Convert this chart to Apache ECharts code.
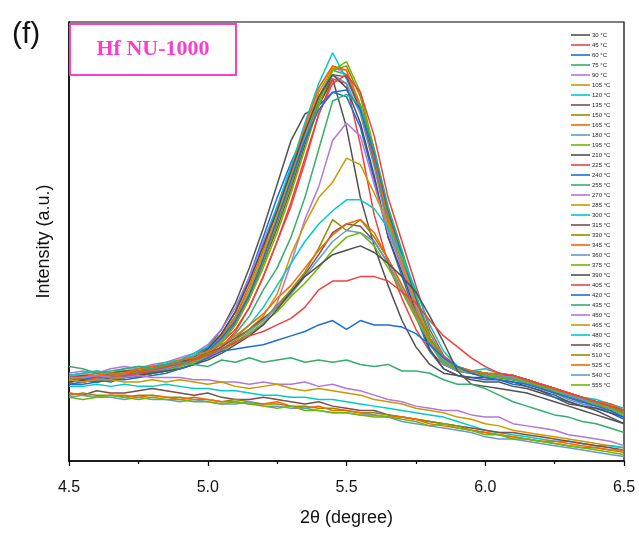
<!DOCTYPE html>
<html><head><meta charset="utf-8">
<script src="https://cdn.jsdelivr.net/npm/echarts@6/dist/echarts.min.js"></script>
<style>html,body{margin:0;padding:0;background:#fff}#c{width:639px;height:540px}</style>
</head><body><div id="c"></div>
<script>
const xs = [4.50,4.55,4.60,4.65,4.70,4.75,4.80,4.85,4.90,4.95,5.00,5.05,5.10,5.15,5.20,5.25,5.30,5.35,5.40,5.45,5.50,5.55,5.60,5.65,5.70,5.75,5.80,5.85,5.90,5.95,6.00,6.05,6.10,6.15,6.20,6.25,6.30,6.35,6.40,6.45,6.50];
const xTicks = [4.5, 5.0, 5.5, 6.0, 6.5];
const temps = ["30 °C","45 °C","60 °C","75 °C","90 °C","105 °C","120 °C","135 °C","150 °C","165 °C","180 °C","195 °C","210 °C","225 °C","240 °C","255 °C","270 °C","285 °C","300 °C","315 °C","330 °C","345 °C","360 °C","375 °C","390 °C","405 °C","420 °C","435 °C","450 °C","465 °C","480 °C","495 °C","510 °C","525 °C","540 °C","555 °C"];
const palette = ["#515151","#F14040","#1A6FDF","#37AD6B","#B177DE","#CC9900","#00CBCC","#7D4E4E","#8E8E00","#FB6501","#6699CC","#6FB802"];

const s30  = [18,18.5,18,19,19.5,19,20.5,21,22.5,24,26,30,36,44,53,63,73,79,81,87,76,60,49,40,32,26,22,20,19.5,18.5,18,18,17,16.5,15.5,14.5,13,12.5,11.5,10,8.5];
const s45  = [18.5,19,19.5,18.5,19,20,20.5,21.5,22,23,24.5,27,30,35,42,50,58,68,79,87,86,72,56,45,37,30,25,22,21,20.5,20,19,19.5,18,17,16,15,14,13.5,12,11];
const s60  = [17.5,18,18.5,18,19,19.5,20,21,22,23.5,26,29,34,42,51,60,68,75,81,84,83,76,64,51,42,33,25,21,19.5,19,18.5,18.5,17.5,17,16,14.5,13.5,12.5,12,11,9.5];
const s75  = [19.5,19,19.5,20,19.5,20.5,21,22,22.5,24,25.5,28.5,33,39,47,55,64,74,83,89,88,81,69,55,46,36,27,22.5,21,20,19.5,19.5,18.5,18,17,15.5,14.5,13.5,12.5,12,11];
const s90  = [20,20.5,20,21,21.5,21,22,22.5,23.5,24.5,26.5,30,35,42,50,58,67,76,85,90,88,80,68,54,45,35,27,22,20.5,20,19.5,19,18.5,18,16.5,15.5,14.5,13,12.5,12,11];
const s105 = [19,18.5,19,19.5,20,20.5,21,21.5,22.5,23.5,25,28,32.5,39,47,56,65,75,84,89.5,89,81,69,55,46,36,27.5,22.5,21,20.5,20,19.5,19,18,17,16,14.5,13.5,13,12,11];
const s120 = [19.5,20,19.5,20,20.5,21,21.5,22,23,24.5,26,29,34,41,49,58,67,77,86,93,87,80,68,54,45,36,27,22,21,20.5,20,19.5,19.5,18.5,17.5,16,15,14,13,12.5,11.5];
const s135 = [18.5,19,19,19.5,20,20,21,21.5,22,23,24.5,27.5,31.5,37.5,45,53,62,72,81,88,87.5,80,68,53,45,36,27,22,20.5,20,19.5,19,19,18,17,15.5,14.5,13.5,13,12,10.5];
const s150 = [18,18.5,18,18.5,19,19.5,20,20.5,21.5,22.5,24,27,31,37,45,54,63,73,82,89,90,83,70,56,47,37,28,23,21,20.5,20,19.5,19,18,17,16,15,14,13,12,11];
const s165 = [19,19.5,20,19.5,20,20.5,21.5,22,22.5,24,25.5,28.5,33,40,48,57,66,76,85,90,89,81,69,55,46,36,27,22.5,21,20,20,19.5,19,18,17,16,15,14,13,12.5,11.5];
const s180 = [18.5,18,18.5,19,19.5,19.5,20,21,21.5,23,24.5,27.5,32,38,46,55,64,74,83,88,86,79,67,53,44,35,26.5,22,20.5,20,19.5,19,18.5,17.5,16.5,15.5,14,13,12,11.5,10];
const s195 = [18,18.5,19,18.5,19,19.5,20,21,22,23,24.5,27,31,37,44,52,61,71,81,89,91,84,71,57,47,37,28,23,21,20.5,20,19.5,19,18.5,17,16,15,14,13,12,11];
const s210 = [18.5,18,18.5,19,19,19.5,20.5,21,22,23.5,25.5,29,34,41,49,57,66,75,83,88,85,77,65,51,43,34,25.5,21,19.5,19,19,18.5,18,17,16,15,13.5,12.5,12,11,10];
const s225 = [18,18.5,18,18.5,19,19.5,20,20.5,21,22,23.5,26,29.5,35,42,50,59,69,79,86,88,84,74,60,50,40,30,24,21.5,20.5,20,19.5,19,18.5,17.5,16.5,15.5,14.5,13.5,12.5,11];
const s240 = [18.5,19,18.5,19,19.5,20,20,21,22,23,25,28,32,38,46,55,64,73,80,84,84.5,80,70,57,47,37,28,23,21,20.5,19.5,19,18.5,18,17,16,14.5,13.5,13,12,10.5];
const s255 = [19,19.5,19,19.5,20,20.5,21,21.5,22,23,24,26,29,33,39,44,51,60,71,82,83.5,81,71,58,48,38,29,23.5,21.5,20.5,20,19.5,19,18.5,17.5,16.5,15,14,13,12.5,11];
const s270 = [19.5,20,20.5,20,20.5,21,21.5,22,22.5,23.5,24,25.5,27,29,31,36,45,55,62.5,73,77,74,63,52,44,35.5,27.5,23,21,20.5,20,19.5,19,18.5,17.5,16.5,15,14,13.5,12.5,11];
const s285 = [19,19.5,19,19.5,20,20.5,21,21.5,22,23,24,25.5,27.5,30,33,38,47,54,60,63.5,69,67.5,61,54,45,36,28,23,21,20.5,20,19.5,19,18.5,17.5,16.5,15.5,14.5,13.5,12.5,11.5];
const s300 = [19.5,20,20.5,20,21,21.5,21.5,22.5,23,24,25,26.5,28,31,35,40,45,50,54,57,59.5,59.5,57.5,53,46.5,39,31,25,21.5,20.5,21,20,19.5,18.5,17.5,16.5,15.5,14.5,14,13,12];
const s315 = [19,19.5,19,20,20.5,20.5,21,22,22.5,23.5,24.5,26,28,30,32.5,35,38.5,42.5,47,52,54,53.5,50,45,39,33,27,23,21,20.5,20,19.5,19.5,18.5,17.5,16.5,15.5,14.5,13.5,13,11.5];
const s330 = [18.5,19,19.5,19.5,20,20.5,21,21.5,22,23,24.5,25.5,27.5,30,32,35.5,39,43,48.5,55,52.5,55,51,46,40,34,28,23.5,21.5,20.5,20,19.5,19,18.5,17.5,16.5,15,14,13.5,12.5,11];
const s345 = [19,19,19.5,20,20,21,21.5,22,23,23.5,25,26.5,28.5,31,33.5,37,40,44,48,51.5,54,55,52,46,40,33.5,27.5,23,21.5,20.5,20,20,19.5,18.5,17.5,16.5,15.5,14.5,13.5,13,11.5];
const s360 = [18,18.5,18.5,19,19.5,20,20.5,21,22,22.5,24,25.5,27,29.5,32,35,38,42,46,50,52.5,52,50,45,39,33,27,23,21,20,19.5,19.5,19,18,17,16,15,14,13,12,10.5];
const s375 = [18,18.5,18,18.5,19,19.5,20,20.5,21.5,22.5,23.5,25,27,29,31.5,34,37.5,40.5,44,48,51,52,49,44,38.5,32.5,27,22.5,21,20,19.5,19,18.5,18,17,16,14.5,13.5,13,12,10.5];
const s390 = [18,18.5,18,19,19,19.5,20,20.5,21,22,23,24.5,26.5,28.5,31,34.5,38.5,42,44.5,47,48,49,47.5,45,42,38.5,33,27,20.5,17.5,17,16.5,16,15.5,14.5,13.5,12.5,11.5,10.5,9.5,8.5];
const s405 = [18.5,18,19,19,19.5,20,20.5,21.5,22,23,24,25.5,27,28.5,29.5,31,32.5,35,39,41,41,42,42,41,38.5,36,32,28.5,26,23.5,21.5,20,19.5,18.5,17.5,16.5,15.5,14.5,13.5,12.5,11.5];
const s420 = [17.5,17.5,18,18.5,18.5,19,19.5,20,21,22,23.5,25,25.5,26,26.5,27.5,28.5,29.5,31,32,30,32,31,31,30.5,29,26.5,23.5,21.5,20,19,18.5,18,17.5,16.5,15.5,14.5,13.5,12.5,11.5,10];
const s435 = [21.5,21,20,20.5,21,21.5,21,22,22.5,22,21.5,23,22.5,23.5,22.5,23,23.5,22.5,23,22.5,23,22,21.5,22,20.5,20.5,20,18.5,17.5,17.5,16.5,15,13.5,12.5,11.5,10.5,10,9,8.5,7.5,6.5];
const s450 = [19,19,19.5,19,19,19.5,19,19,19,18.5,18.5,18,18,17.5,18,17.5,17.5,18,17,17.5,16.5,16,15,14,13.5,12.5,12,11.5,11.5,10.5,10,10,8.5,8,7.5,7,6,5.5,5,4.5,3.5];
const s465 = [18.5,18,18.5,18.5,18,18,18.5,18,18.5,18,17.5,18,17,16.5,17,17.5,16.5,16,16.5,16,15.5,15,14,13.5,13,12,11.5,11,10,9.5,8.5,8,7,6.5,6,5.5,5,4.5,4,3.5,3];
const s480 = [17,17,17.5,17,17.5,17,17,17.5,17,16.5,16.5,16,16,15.5,15,15,14.5,14.5,14,14,13.5,13,12.5,12,11.5,11,10.5,10,9,8,7,6.5,6,5.5,5,4.5,4.5,4,3.5,3.5,3];
const s495 = [15.5,15,16,15.5,15.5,16,16.5,16,15.5,15,15.5,14.5,14,14,14.5,14,13.5,13,13.5,12.5,12,11.5,11.5,10.5,10,9.5,9,8.5,8,7.5,7,6.5,6.5,6,5.5,5,4.5,4,3.5,3,2.5];
const s510 = [15,15.5,15,15,14.5,15,15,14.5,14.5,14,14,13.5,14,13.5,13,13,12.5,12.5,12,12,11.5,11,11,10.5,10,9.5,9,8.5,8,7,6.5,6,5.5,5,4.5,4,3.5,3,3,2.5,2];
const s525 = [15.5,15,14.5,15,15,14.5,15,14.5,14,14.5,14,13.5,13.5,13,13,13.5,12.5,12,12.5,11.5,11.5,11,10.5,10,10,9.5,8.5,8,7.5,7,6.5,6,5.5,5,4.5,4.5,4,3.5,3,2.5,2.5];
const s540 = [14.5,15,14.5,14.5,14,14.5,14,14,13.5,14,13.5,13,13,13.5,12.5,12.5,12,12,11.5,11,11,10.5,10.5,10,9,8.5,8,7.5,7,6.5,5.5,5,5,4.5,4,3.5,3,2.5,2,1.5,1];
const s555 = [14.5,14,14.5,15,14.5,14,14.5,14,14,13.5,13.5,13,13.5,13,12.5,12,12.5,11.5,11.5,11,11,10.5,10,10,9.5,9,8,8.5,7.5,7,6,6,5,5,4.5,4,3.5,3,2.5,2,1.5];

const allSeries = [s30,s45,s60,s75,s90,s105,s120,s135,s150,s165,s180,s195,s210,s225,s240,s255,s270,s285,s300,s315,s330,s345,s360,s375,s390,s405,s420,s435,s450,s465,s480,s495,s510,s525,s540,s555];

const chart = echarts.init(document.getElementById('c'), null, {renderer:'canvas'});
const series = allSeries.map((arr, i) => ({
  name: temps[i], type: 'line', symbol: 'none', animation: false,
  data: arr.map((v, j) => [xs[j], v]),
  lineStyle: {width: 1.5, color: palette[i % 12]},
  itemStyle: {color: palette[i % 12]}
}));

chart.setOption({
  animation: false,
  backgroundColor: '#fff',
  grid: {left: 69, right: 15, top: 22, bottom: 79, show: true, borderColor: '#000', borderWidth: 1.2},
  xAxis: {
    type: 'value', min: 4.5, max: 6.5, interval: 0.5,
    name: '2θ (degree)', nameLocation: 'middle', nameGap: 48,
    nameTextStyle: {fontFamily: 'Liberation Sans, Arial', fontSize: 18, color: '#111'},
    axisLine: {lineStyle: {color: '#000', width: 1.5}},
    axisTick: {length: 5, lineStyle: {color: '#000', width: 1.2}},
    minorTick: {show: true, splitNumber: 2, length: 3, lineStyle: {color: '#000', width: 1.2}},
    splitLine: {show: false},
    axisLabel: {margin: 19, fontFamily: 'Liberation Sans, Arial', fontSize: 16, color: '#111',
      formatter: v => { const t = xTicks.find(k => Math.abs(k - v) < 1e-6); return t !== undefined ? t.toFixed(1) : ''; }}
  },
  yAxis: {
    type: 'value', min: 0, max: 100,
    name: 'Intensity (a.u.)', nameLocation: 'middle', nameGap: 16, nameRotate: 90,
    nameTextStyle: {fontFamily: 'Liberation Sans, Arial', fontSize: 18, color: '#111'},
    axisLine: {show: true, lineStyle: {color: '#000', width: 1.5}},
    axisTick: {show: false}, axisLabel: {show: false}, splitLine: {show: false}
  },
  legend: {
    orient: 'vertical', left: 566, top: 27,
    icon: 'rect', itemWidth: 19, itemHeight: 1.6, itemGap: 4,
    textStyle: {fontSize: 6, lineHeight: 6, height: 6, color: '#222', fontFamily: 'Liberation Sans, Arial', padding: [0,0,0,-3]},
    data: temps
  },
  graphic: [
    {type: 'text', left: 12, top: 20, style: {text: '(f)', font: '30px "Liberation Sans", Arial', fill: '#111'}},
    {type: 'rect', shape: {x: 70, y: 24, width: 166, height: 51}, style: {fill: '#fff', stroke: '#FF3CC8', lineWidth: 2}, z: 100},
    {type: 'text', x: 153, y: 49, z: 101, style: {text: 'Hf NU-1000', font: 'bold 22px "Liberation Serif", "Times New Roman", serif', fill: '#FF3CC8', align: 'center', verticalAlign: 'middle'}}
  ],
  series: series
});
</script></body></html>
